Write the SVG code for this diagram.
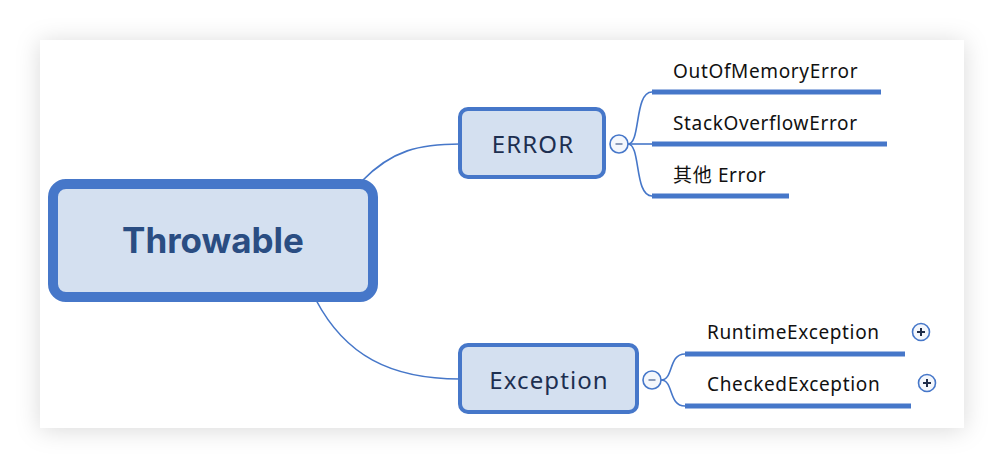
<svg xmlns="http://www.w3.org/2000/svg" width="1004" height="468" viewBox="0 0 1004 468">
  <defs>
    <filter id="shadow" x="-10%" y="-15%" width="120%" height="130%">
      <feDropShadow dx="0" dy="2" stdDeviation="12" flood-color="#000" flood-opacity="0.15"/>
    </filter>
  </defs>
  <style>
    .node rect { fill: #d4e0f0; stroke: #4677c9; }
    .conn { fill: none; stroke: #4677c9; stroke-width: 1.6; }
    .bar { stroke: #4677c9; stroke-width: 5; }
    .lbl { font-family: "Noto Sans", "Noto Sans CJK SC", sans-serif; font-size: 19px; letter-spacing: 0.65px; fill: #111111; }
    .sub { font-family: "Noto Sans", sans-serif; font-size: 24px; letter-spacing: 1.1px; fill: #1d2f50; text-anchor: middle; }
    .toggle circle { fill: #f4f7fc; stroke: #4677c9; stroke-width: 1.6; }
    .minus { stroke: #8a9ab8; stroke-width: 2; }
    .plus { stroke: #1f2d4a; stroke-width: 2; }
  </style>
  <rect x="0" y="0" width="1004" height="468" fill="#ffffff"/>
  <rect x="40" y="40" width="924" height="388" fill="#ffffff" filter="url(#shadow)"/>

  <g id="connectors">
    <path class="conn" d="M362,181 C392,150 420,144 460,144"/>
    <path class="conn" d="M316,300 C345,355 390,379 460,379"/>
    <path class="conn" d="M628,144 C641,144 634,92 652,92"/>
    <path class="conn" d="M628,144 L652,144"/>
    <path class="conn" d="M628,144 C641,144 634,196 652,196"/>
    <path class="conn" d="M661,380 C674,380 668,354 685,354"/>
    <path class="conn" d="M661,380 C674,380 668,406 685,406"/>
  </g>

  <g id="throwable" class="node">
    <rect x="53" y="184" width="320" height="113" rx="13" stroke-width="10"/>
    <text x="213" y="253" text-anchor="middle" font-family="Inter, 'Noto Sans', sans-serif" font-weight="bold" font-size="35" fill="#2a4d82">Throwable</text>
  </g>

  <g id="error" class="node">
    <rect x="460" y="109" width="144" height="68" rx="8" stroke-width="4"/>
    <text class="sub" x="533" y="153">ERROR</text>
  </g>
  <g id="error-toggle" class="toggle">
    <circle cx="619" cy="144" r="9"/>
    <line class="minus" x1="615.5" y1="144" x2="622.5" y2="144"/>
  </g>

  <g id="oom">
    <text class="lbl" x="673" y="78">OutOfMemoryError</text>
    <line class="bar" x1="652" y1="92" x2="881" y2="92"/>
  </g>
  <g id="soe">
    <text class="lbl" x="673" y="130">StackOverflowError</text>
    <line class="bar" x1="652" y1="144" x2="887" y2="144"/>
  </g>
  <g id="other-error">
    <text class="lbl" x="673" y="182">其他 Error</text>
    <line class="bar" x1="652" y1="196" x2="789" y2="196"/>
  </g>

  <g id="exception" class="node">
    <rect x="460" y="345" width="177" height="67" rx="8" stroke-width="4"/>
    <text class="sub" x="549" y="389">Exception</text>
  </g>
  <g id="exception-toggle" class="toggle">
    <circle cx="652" cy="380" r="9"/>
    <line class="minus" x1="648.5" y1="380" x2="655.5" y2="380"/>
  </g>

  <g id="runtime">
    <text class="lbl" x="707" y="339">RuntimeException</text>
    <line class="bar" x1="685" y1="354" x2="905" y2="354"/>
  </g>
  <g id="runtime-toggle" class="toggle">
    <circle cx="921" cy="332" r="8.5"/>
    <line class="plus" x1="917" y1="332" x2="925" y2="332"/>
    <line class="plus" x1="921" y1="328" x2="921" y2="336"/>
  </g>

  <g id="checked">
    <text class="lbl" x="707" y="391">CheckedException</text>
    <line class="bar" x1="685" y1="406" x2="911" y2="406"/>
  </g>
  <g id="checked-toggle" class="toggle">
    <circle cx="927" cy="383" r="8.5"/>
    <line class="plus" x1="923" y1="383" x2="931" y2="383"/>
    <line class="plus" x1="927" y1="379" x2="927" y2="387"/>
  </g>
</svg>
